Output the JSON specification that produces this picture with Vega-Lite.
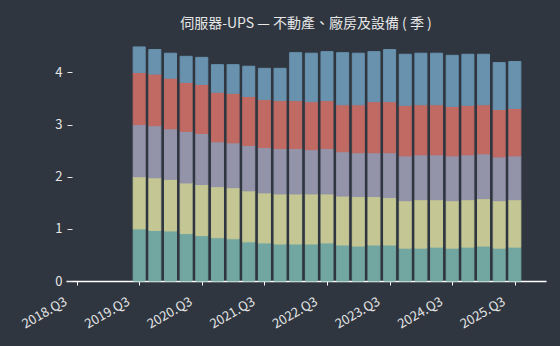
{
  "$schema": "https://vega.github.io/schema/vega-lite/v6.json",
  "width": 480,
  "height": 245,
  "autosize": {"type": "none"},
  "padding": {"left": 66, "top": 36, "right": 14, "bottom": 65},
  "background": "#2f3640",
  "config": {
    "view": {"stroke": null},
    "font": "Noto Sans CJK TC"
  },
  "title": {
    "text": "伺服器-UPS — 不動產、廠房及設備 ( 季 )",
    "color": "#e6e6e6",
    "fontSize": 14,
    "fontWeight": "normal",
    "anchor": "middle",
    "offset": 5
  },
  "data": {
    "values": [
      {"t": 2019.5, "s1": 1.00, "s2": 1.00, "s3": 1.00, "s4": 1.00, "s5": 0.49},
      {"t": 2019.75, "s1": 0.97, "s2": 1.01, "s3": 1.00, "s4": 0.99, "s5": 0.47},
      {"t": 2020.0, "s1": 0.96, "s2": 0.99, "s3": 0.97, "s4": 0.97, "s5": 0.48},
      {"t": 2020.25, "s1": 0.91, "s2": 0.97, "s3": 0.99, "s4": 0.94, "s5": 0.50},
      {"t": 2020.5, "s1": 0.87, "s2": 0.98, "s3": 0.98, "s4": 0.94, "s5": 0.52},
      {"t": 2020.75, "s1": 0.83, "s2": 0.98, "s3": 0.86, "s4": 0.95, "s5": 0.53},
      {"t": 2021.0, "s1": 0.81, "s2": 0.98, "s3": 0.86, "s4": 0.95, "s5": 0.55},
      {"t": 2021.25, "s1": 0.75, "s2": 0.98, "s3": 0.87, "s4": 0.94, "s5": 0.58},
      {"t": 2021.5, "s1": 0.73, "s2": 0.96, "s3": 0.87, "s4": 0.92, "s5": 0.60},
      {"t": 2021.75, "s1": 0.71, "s2": 0.96, "s3": 0.87, "s4": 0.92, "s5": 0.62},
      {"t": 2022.0, "s1": 0.71, "s2": 0.96, "s3": 0.87, "s4": 0.92, "s5": 0.92},
      {"t": 2022.25, "s1": 0.71, "s2": 0.96, "s3": 0.85, "s4": 0.92, "s5": 0.93},
      {"t": 2022.5, "s1": 0.73, "s2": 0.94, "s3": 0.87, "s4": 0.92, "s5": 0.94},
      {"t": 2022.75, "s1": 0.69, "s2": 0.94, "s3": 0.85, "s4": 0.90, "s5": 1.00},
      {"t": 2023.0, "s1": 0.67, "s2": 0.95, "s3": 0.84, "s4": 0.92, "s5": 0.99},
      {"t": 2023.25, "s1": 0.69, "s2": 0.93, "s3": 0.84, "s4": 0.98, "s5": 0.96},
      {"t": 2023.5, "s1": 0.69, "s2": 0.91, "s3": 0.86, "s4": 0.98, "s5": 1.00},
      {"t": 2023.75, "s1": 0.63, "s2": 0.91, "s3": 0.86, "s4": 0.97, "s5": 0.98},
      {"t": 2024.0, "s1": 0.63, "s2": 0.93, "s3": 0.86, "s4": 0.96, "s5": 0.99},
      {"t": 2024.25, "s1": 0.65, "s2": 0.91, "s3": 0.86, "s4": 0.96, "s5": 0.99},
      {"t": 2024.5, "s1": 0.63, "s2": 0.91, "s3": 0.86, "s4": 0.95, "s5": 0.98},
      {"t": 2024.75, "s1": 0.65, "s2": 0.91, "s3": 0.86, "s4": 0.95, "s5": 0.98},
      {"t": 2025.0, "s1": 0.67, "s2": 0.91, "s3": 0.86, "s4": 0.94, "s5": 0.97},
      {"t": 2025.25, "s1": 0.63, "s2": 0.91, "s3": 0.84, "s4": 0.91, "s5": 0.90},
      {"t": 2025.5, "s1": 0.65, "s2": 0.91, "s3": 0.84, "s4": 0.91, "s5": 0.90}
    ]
  },
  "transform": [
    {"fold": ["s1", "s2", "s3", "s4", "s5"], "as": ["item", "v"]}
  ],
  "mark": {"type": "bar", "size": 12, "strokeWidth": 1},
  "encoding": {
    "x": {
      "field": "t",
      "type": "quantitative",
      "scale": {"domain": [2018.411, 2025.918], "nice": false, "zero": false},
      "axis": {
        "title": null,
        "values": [2018.5, 2019.5, 2020.5, 2021.5, 2022.5, 2023.5, 2024.5, 2025.5],
        "labelExpr": "floor(datum.value) + '.Q3'",
        "labelAngle": -30,
        "labelAlign": "right",
        "labelBaseline": "top",
        "labelColor": "#e6e6e6",
        "labelFontSize": 13,
        "labelPadding": 10,
        "labelOffset": -14,
        "domainColor": "#ffffff",
        "domainWidth": 1.5,
        "tickColor": "#ffffff",
        "tickSize": 4,
        "grid": false
      }
    },
    "y": {
      "field": "v",
      "type": "quantitative",
      "stack": "zero",
      "scale": {"domain": [0, 4.7], "nice": false},
      "axis": {
        "title": null,
        "values": [0, 1, 2, 3, 4],
        "domain": false,
        "grid": false,
        "offset": -6,
        "tickColor": "#e6e6e6",
        "tickSize": 5,
        "labelColor": "#e6e6e6",
        "labelFontSize": 13,
        "labelPadding": 5
      }
    },
    "color": {
      "field": "item",
      "type": "nominal",
      "scale": {
        "domain": ["s1", "s2", "s3", "s4", "s5"],
        "range": ["#72a6a0", "#c4c794", "#9393a9", "#c06a63", "#6892ae"]
      },
      "legend": null
    },
    "stroke": {
      "field": "item",
      "type": "nominal",
      "scale": {
        "domain": ["s1", "s2", "s3", "s4", "s5"],
        "range": ["#72a6a0", "#c4c794", "#9393a9", "#c06a63", "#6892ae"]
      },
      "legend": null
    },
    "order": {"field": "item", "sort": "ascending"}
  }
}
